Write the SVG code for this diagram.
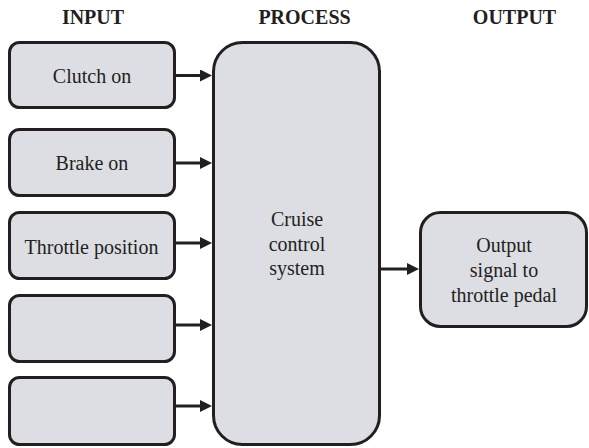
<svg xmlns="http://www.w3.org/2000/svg" width="589" height="448" viewBox="0 0 589 448">
<defs>
<style>
.box{fill:#dcdee3;stroke:#231f20;stroke-width:3}
.lbl{font-family:'Liberation Serif','Times New Roman',serif;font-size:20px;fill:#231f20;text-anchor:middle}
.hdr{font-family:'Liberation Serif','Times New Roman',serif;font-size:20px;font-weight:bold;fill:#231f20;text-anchor:middle}
.con{stroke:#231f20;stroke-width:3;fill:none;marker-end:url(#ah)}
</style>
<marker id="ah" markerUnits="userSpaceOnUse" markerWidth="12" markerHeight="12" refX="3" refY="6" orient="auto">
<path d="M0,0 L12,6 L0,12 z" fill="#231f20"/>
</marker>
</defs>
<rect width="589" height="448" fill="#ffffff"/>
<g id="headers">
<text class="hdr" x="93" y="24">INPUT</text>
<text class="hdr" x="304.5" y="24">PROCESS</text>
<text class="hdr" x="514.5" y="24">OUTPUT</text>
</g>
<g id="in1"><rect class="box" x="9.5" y="42.5" width="165" height="65" rx="10"/><text class="lbl" x="92" y="83">Clutch on</text></g>
<g id="in2"><rect class="box" x="9.5" y="129.5" width="165" height="66" rx="10"/><text class="lbl" x="92" y="170">Brake on</text></g>
<g id="in3"><rect class="box" x="9.5" y="212.5" width="165" height="66" rx="10"/><text class="lbl" x="91.5" y="254">Throttle position</text></g>
<g id="in4"><rect class="box" x="9.5" y="295.5" width="165" height="66" rx="10"/></g>
<g id="in5"><rect class="box" x="9.5" y="377.5" width="165" height="67" rx="10"/></g>
<g id="process"><rect class="box" x="213.5" y="42.5" width="166" height="402" rx="29"/>
<text class="lbl" x="297" y="226">Cruise</text>
<text class="lbl" x="297" y="250.5">control</text>
<text class="lbl" x="297" y="275">system</text></g>
<g id="output"><rect class="box" x="420.5" y="212.5" width="166" height="114" rx="20"/>
<text class="lbl" x="504" y="252">Output</text>
<text class="lbl" x="504" y="277">signal to</text>
<text class="lbl" x="504" y="302">throttle pedal</text></g>
<g id="connectors">
<path class="con" d="M176,75.5 H203"/>
<path class="con" d="M176,163 H203"/>
<path class="con" d="M176,243 H203"/>
<path class="con" d="M176,325 H203"/>
<path class="con" d="M176,406 H203"/>
<path class="con" d="M381,269 H410"/>
</g>
</svg>
